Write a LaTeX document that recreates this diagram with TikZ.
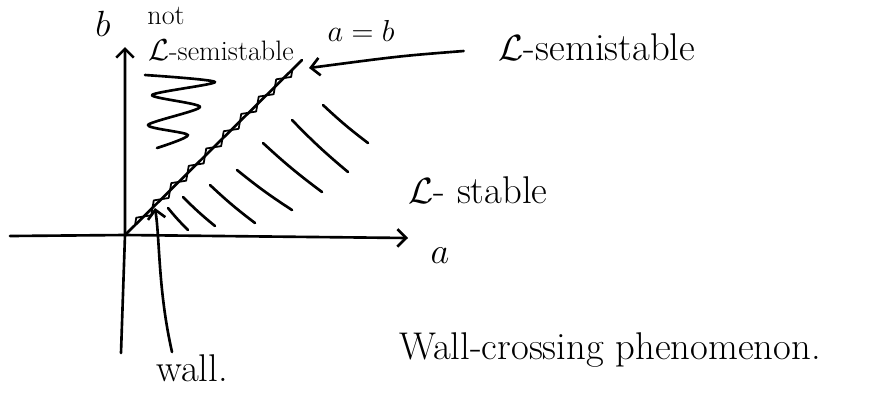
\documentclass[tikz,border=0pt]{standalone}
\usetikzlibrary{arrows.meta,decorations.pathmorphing}
\begin{document}
\begin{tikzpicture}[x=.02cm,y=-.02cm,>={Straight Barb[length=5pt,width=10pt]}, line width=1.5pt, line join=round, line cap=round, font=\fontsize{22}{26}\selectfont]
		\tikzset{small label/.style={font=\fontsize{16}{19}\selectfont,inner sep=1pt},
			wiggle/.style={decorate,decoration={zigzag,segment length=14pt,amplitude=2.5pt,pre length=8pt,post length=2pt}}}
		\useasboundingbox (0,0) rectangle (888,393);
		% axes
		\coordinate (O) at (125,235);
		\coordinate (xend) at (408,238);
		\coordinate (yend) at (125,47);
		\draw[->] (10,236) -- (O) -- (xend);
		\draw[->] (121,353) -- (O) -- (yend);
		\node (lblb) at (103,24) {$b$};
		\node (lbla) at (440,256) {$a$};
		% the wall a=b
		\coordinate (W) at (302,60);
		\draw (O) -- (W);
		\draw[line width=1pt,wiggle] (O) -- (W);
		\node[small label] (lblab) at (361,31) {$a=b$};
		% not semistable side
		\node[small label] (lblnot) at (166,16) {not};
		\node[small label] (lblnss) at (221,50) {$\mathcal{L}$-semistable};
		\draw plot[smooth,tension=.45] coordinates {(145,75) (215,82) (152,95) (200,107) (148,125) (188,135) (157,148)};
		% stable side
		\foreach \p/\q in {{323,105}/{368,143},{292,120}/{348,172},{263,143}/{322,192},{237,170}/{292,210},{210,185}/{255,223},{183,197}/{215,226},{168,208}/{188,230}}
			\draw (\p) to[bend right=3] (\q);
		\node (lblst) at (478,190) {$\mathcal{L}$- stable};
		% labels with arrows
		\node (lblss) at (597,47) {$\mathcal{L}$-semistable};
		\coordinate (sstip) at (309,68);
		\draw[->] (lblss.west) ++(-28,4) coordinate (ssstart) .. controls (400,56) .. (sstip);
		\node (lblwall) at (192,368) {wall.};
		\coordinate (walltip) at (155,208);
		\draw[->] (172,352) coordinate (wallstart) .. controls (158,290) and (160,240) .. (walltip);
		\node (title) at (610,350) {Wall-crossing phenomenon.};
\end{tikzpicture}
\end{document}
